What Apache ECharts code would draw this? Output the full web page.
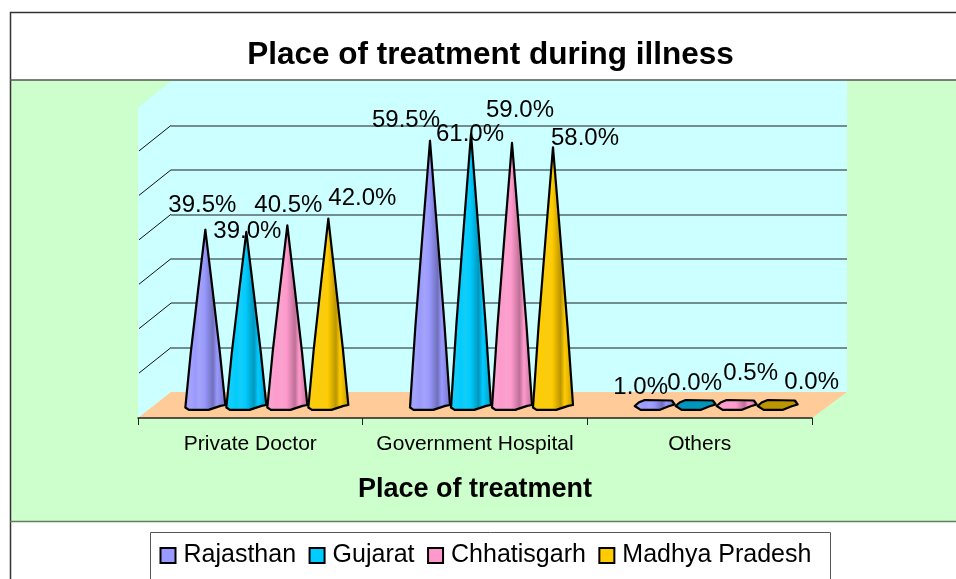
<!DOCTYPE html>
<html><head><meta charset="utf-8">
<style>html,body{margin:0;padding:0;background:#fff}#c{width:956px;height:579px}</style>
<script src="https://cdn.jsdelivr.net/npm/echarts@6/dist/echarts.min.js"></script>
</head><body><div id="c"></div>
<script>
const categories = ['Private Doctor', 'Government Hospital', 'Others'];
const rajasthan = [39.5, 59.5, 1.0];
const gujarat = [39.0, 61.0, 0.0];
const chhatisgarh = [40.5, 59.0, 0.5];
const madhyaPradesh = [42.0, 58.0, 0.0];
const seriesNames = ['Rajasthan', 'Gujarat', 'Chhatisgarh', 'Madhya Pradesh'];
const seriesValues = [rajasthan, gujarat, chhatisgarh, madhyaPradesh];

const title = 'Place of treatment during illness';
const xTitle = 'Place of treatment';
const FONT = '"Liberation Sans", Arial, sans-serif';

// Styling: base colour, darker shade, lighter shade
const palette = [
  ['#9999FF', '#7070BC', '#A3A3F8'],
  ['#00CCFF', '#0096BC', '#14CDF8'],
  ['#FF99CC', '#BC7096', '#F8A3CD'],
  ['#FFCC00', '#BC9600', '#F8CC14']
];
// Label placement relative to each cone's apex [series][category] (dx, dy of text centre)
const labelShift = [
  [[-3, -24], [-24, -20], [-14, -14]],
  [[1, -1], [-1, 0], [-1, -22]],
  [[1, -20], [8, -33], [14, -30]],
  [[34, -20], [32, -9], [34, -23]]
];
// depth offset of the 3-D box, px
const DX = 33, DY = 26.5;
const L = 138, R = 812, FRONT = 418, TOPW = 81, BACK = 392;

function coneRenderer(si) {
  return function (params, api) {
    const cat = api.value(0), val = api.value(1);
    const apex = api.coord([cat, val]);
    const base = api.coord([cat, 0]);
    const band = api.size([1, 0])[0];
    const unit = band * 41 / 224.67;
    const cx = base[0] + (si - 1.5) * unit;
    const by = base[1];
    const x0 = cx - unit / 2 + 0.5, x1 = cx + unit / 2 - 0.5;
    const w = x1 - x0;
    const pts = (a) => a.map(p => [x0 + p[0] * w, by + p[1]]);
    const c = palette[si];
    const grad = {
      type: 'linear', x: 0, y: 0, x2: 1, y2: 0,
      colorStops: [
        { offset: 0, color: c[0] },
        { offset: 0.14, color: c[2] },
        { offset: 0.26, color: c[0] },
        { offset: 0.36, color: c[2] },
        { offset: 0.48, color: c[0] },
        { offset: 0.68, color: c[1] },
        { offset: 0.78, color: c[0] },
        { offset: 1, color: c[1] }
      ]
    };
    const strokeStyle = { stroke: '#000', lineWidth: 2.2, lineJoin: 'round' };
    const children = [];
    if (val < 15) {
      const flat = pts([[0, 0.5], [0.15, 4.4], [0.62, 4.4], [0.85, 0.8], [1, -1], [0.93, -5], [0.25, -5.5], [0.1, -3]]);
      children.push({
        type: 'polygon',
        shape: { points: flat },
        style: Object.assign({ fill: val === 0 ? c[1] : grad }, strokeStyle)
      });
    } else {
      const h = by - apex[1];
      // sides bow very slightly outward, as in the rendered cone
      const side = (t, hw) => [[cx - hw * w / 2, apex[1] + t * h], [cx + hw * w / 2, apex[1] + t * h]];
      const s1 = side(0.35, 0.37), s2 = side(0.7, 0.73);
      const lower = pts([[0, 2], [0.09, 4.4], [0.58, 4.4], [0.88, 0.4], [1, -0.5]]);
      const outline = [[cx, apex[1]], s1[0], s2[0]].concat(lower, [s2[1], s1[1]]);
      children.push({
        type: 'polygon',
        shape: { points: outline },
        style: Object.assign({ fill: grad }, strokeStyle)
      });
    }
    const s = labelShift[si][cat];
    children.push({
      type: 'text',
      z2: 50,
      style: {
        text: val.toFixed(1) + '%',
        x: cx + s[0], y: apex[1] + s[1],
        align: 'center', verticalAlign: 'middle',
        font: '24px ' + FONT, fill: '#000'
      }
    });
    return { type: 'group', children: children };
  };
}

const chart = echarts.init(document.getElementById('c'), null, { renderer: 'canvas' });

const graphics = [];
graphics.push({ type: 'rect', z: -5, shape: { x: 11, y: 80, width: 960, height: 441 }, style: { fill: '#CCFFCC' } });
// side wall
graphics.push({ type: 'polygon', z: -4, shape: { points: [[L, TOPW + DY], [L + DX, TOPW], [L + DX, BACK], [L, FRONT]] }, style: { fill: '#CCFFFF' } });
// floor
graphics.push({ type: 'polygon', z: -2, shape: { points: [[L, FRONT], [R, FRONT], [R + DX + 2, BACK], [L + DX, BACK]] }, style: { fill: '#FFCC99' } });
// frame
graphics.push({ type: 'polyline', z: 30, shape: { points: [[10.5, 579], [10.5, 12.5], [956, 12.5]] }, style: { fill: 'none', stroke: '#333', lineWidth: 1.5 } });
graphics.push({ type: 'line', z: 30, shape: { x1: 10, y1: 80, x2: 956, y2: 80 }, style: { stroke: '#555', lineWidth: 1.5 } });
graphics.push({ type: 'line', z: 30, shape: { x1: 10, y1: 521.5, x2: 956, y2: 521.5 }, style: { stroke: '#5f7f5f', lineWidth: 1.5 } });
// legend box
graphics.push({ type: 'rect', z: 1, shape: { x: 150.5, y: 532.5, width: 680, height: 60 }, style: { fill: '#fff', stroke: '#555', lineWidth: 1 } });
// title
graphics.push({ type: 'text', z: 30, style: { text: title, x: 490.5, y: 55, align: 'center', verticalAlign: 'middle', font: 'bold 31.5px ' + FONT, fill: '#000' } });

const axisOff = { show: false };
const option = {
  animation: false,
  backgroundColor: '#fff',
  graphic: { elements: graphics },
  legend: {
    data: seriesNames,
    left: 159.5, top: 543,
    padding: 0,
    icon: 'rect',
    itemWidth: 15, itemHeight: 15,
    itemGap: 12.5,
    itemStyle: { borderColor: '#000', borderWidth: 2 },
    textStyle: { fontFamily: FONT, fontSize: 25, color: '#000', padding: [0, 0, 0, 3] },
    selectedMode: false
  },
  grid: [
    { left: L + DX, right: 956 - 847, top: TOPW, bottom: 579 - BACK, show: true, backgroundColor: '#CCFFFF', borderWidth: 0, z: -3 },
    { left: L + 16.5, right: 956 - (R + 16.5), top: 94, bottom: 173.5 },
    { left: L, right: 956 - R, top: 108, bottom: 579 - FRONT }
  ],
  xAxis: [
    { gridIndex: 0, type: 'category', data: categories, show: false },
    { gridIndex: 1, type: 'category', data: categories, show: false },
    {
      gridIndex: 2, type: 'category', data: categories, position: 'bottom',
      axisLine: { show: true, lineStyle: { color: '#222', width: 1.5 } },
      axisTick: { show: true, interval: 0, alignWithLabel: false, length: 7, lineStyle: { color: '#222', width: 1 } },
      axisLabel: { interval: 0, hideOverlap: false, fontFamily: FONT, fontSize: 21, color: '#000', margin: 16 },
      name: xTitle, nameLocation: 'middle', nameGap: 58,
      nameTextStyle: { fontFamily: FONT, fontSize: 27, fontWeight: 'bold', color: '#000' }
    }
  ],
  yAxis: [
    {
      gridIndex: 0, type: 'value', min: 0, max: 70, interval: 10,
      axisLine: axisOff, axisTick: axisOff, axisLabel: axisOff,
      splitLine: { show: true, showMinLine: false, showMaxLine: false, lineStyle: { color: '#56696b', width: 1.5 } }
    },
    { gridIndex: 1, type: 'value', min: 0, max: 70, interval: 10, show: false, splitLine: axisOff },
    { gridIndex: 2, type: 'value', min: 0, max: 70, interval: 10, show: false, splitLine: axisOff }
  ],
  series: seriesNames.map((name, si) => ({
    name: name,
    type: 'custom',
    xAxisIndex: 1, yAxisIndex: 1,
    z: 5 + si,
    itemStyle: { color: palette[si][0] },
    encode: { x: 0, y: 1 },
    clip: false,
    renderItem: coneRenderer(si),
    data: categories.map((c, i) => [i, seriesValues[si][i]])
  })).concat([{
    // side-wall tick lines follow the back-wall value scale
    name: 'walls',
    type: 'custom',
    xAxisIndex: 0, yAxisIndex: 0,
    z: 2,
    clip: false,
    encode: { y: 0 },
    renderItem: function (params, api) {
      const p = api.coord([0, api.value(0)]);
      return { type: 'line', shape: { x1: L + DX, y1: p[1], x2: L + 1, y2: p[1] + DY - 1 }, style: { stroke: '#111', lineWidth: 1 } };
    },
    data: [[10], [20], [30], [40], [50], [60]]
  }])
};
chart.setOption(option);
</script></body></html>
